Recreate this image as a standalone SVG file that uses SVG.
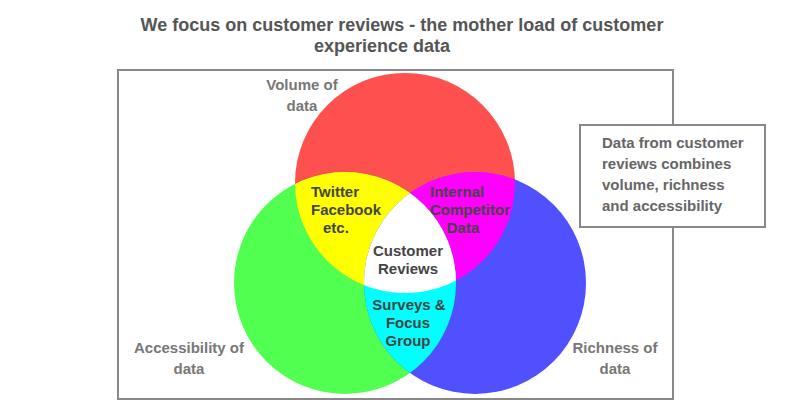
<svg xmlns="http://www.w3.org/2000/svg" width="790" height="420" viewBox="0 0 790 420">
  <style>
    .title { font-family: "Liberation Sans", Arial, sans-serif; font-weight: bold; font-size: 18px; fill: #555555; text-anchor: middle; }
    .outer { font-family: "Liberation Sans", Arial, sans-serif; font-weight: bold; font-size: 15px; fill: #777777; text-anchor: middle; }
    .inner { font-family: "Liberation Sans", Arial, sans-serif; font-weight: bold; font-size: 15px; fill: #444444; }
    .note { font-family: "Liberation Sans", Arial, sans-serif; font-weight: bold; font-size: 15px; fill: #666666; }
    .frame { fill: #ffffff; stroke: #888888; stroke-width: 2; }
  </style>
  <defs>
    <clipPath id="cRed"><circle cx="405" cy="183" r="110"/></clipPath>
    <clipPath id="cGreen"><circle cx="345" cy="283" r="111"/></clipPath>
    <clipPath id="cBlue"><circle cx="475" cy="283" r="111"/></clipPath>
  </defs>
  <rect width="790" height="420" fill="#ffffff"/>

  <g id="title">
    <text class="title" x="402" y="31">We focus on customer reviews - the mother load of customer</text>
    <text class="title" x="382" y="52">experience data</text>
  </g>

  <rect id="frame" class="frame" x="118" y="70" width="555" height="329"/>

  <g id="circle-volume">
    <circle cx="405" cy="183" r="110" fill="#ff5050"/>
  </g>
  <g id="circle-accessibility">
    <circle cx="345" cy="283" r="111" fill="#50ff50"/>
  </g>
  <g id="circle-richness">
    <circle cx="475" cy="283" r="111" fill="#5050ff"/>
  </g>
  <g id="overlap-twitter">
    <g clip-path="url(#cRed)"><circle cx="345" cy="283" r="111" fill="#ffff00"/></g>
  </g>
  <g id="overlap-internal">
    <g clip-path="url(#cRed)"><circle cx="475" cy="283" r="111" fill="#ff00ff"/></g>
  </g>
  <g id="overlap-surveys">
    <g clip-path="url(#cGreen)"><circle cx="475" cy="283" r="111" fill="#00ffff"/></g>
  </g>
  <g id="overlap-reviews">
    <g clip-path="url(#cRed)"><g clip-path="url(#cGreen)"><circle cx="475" cy="283" r="111" fill="#ffffff"/></g></g>
  </g>

  <g id="labels-inner">
    <text class="inner" x="311" y="197">Twitter</text>
    <text class="inner" x="311" y="215">Facebook</text>
    <text class="inner" x="323" y="233">etc.</text>
    <text class="inner" x="430" y="197">Internal</text>
    <text class="inner" x="430" y="215">Competitor</text>
    <text class="inner" x="463" y="233" text-anchor="middle">Data</text>
    <text class="inner" x="408" y="256" text-anchor="middle">Customer</text>
    <text class="inner" x="408" y="274" text-anchor="middle">Reviews</text>
    <text class="inner" x="409" y="310" text-anchor="middle">Surveys &amp;</text>
    <text class="inner" x="408" y="328" text-anchor="middle">Focus</text>
    <text class="inner" x="408" y="346" text-anchor="middle">Group</text>
  </g>

  <g id="labels-outer">
    <text class="outer" x="302" y="90">Volume of</text>
    <text class="outer" x="302" y="111">data</text>
    <text class="outer" x="189" y="353">Accessibility of</text>
    <text class="outer" x="189" y="374">data</text>
    <text class="outer" x="615" y="353">Richness of</text>
    <text class="outer" x="615" y="374">data</text>
  </g>

  <g id="note">
    <rect class="frame" x="580" y="125" width="185" height="102"/>
    <text class="note" x="602" y="148">Data from customer</text>
    <text class="note" x="602" y="169">reviews combines</text>
    <text class="note" x="602" y="190">volume, richness</text>
    <text class="note" x="602" y="211">and accessibility</text>
  </g>
</svg>
